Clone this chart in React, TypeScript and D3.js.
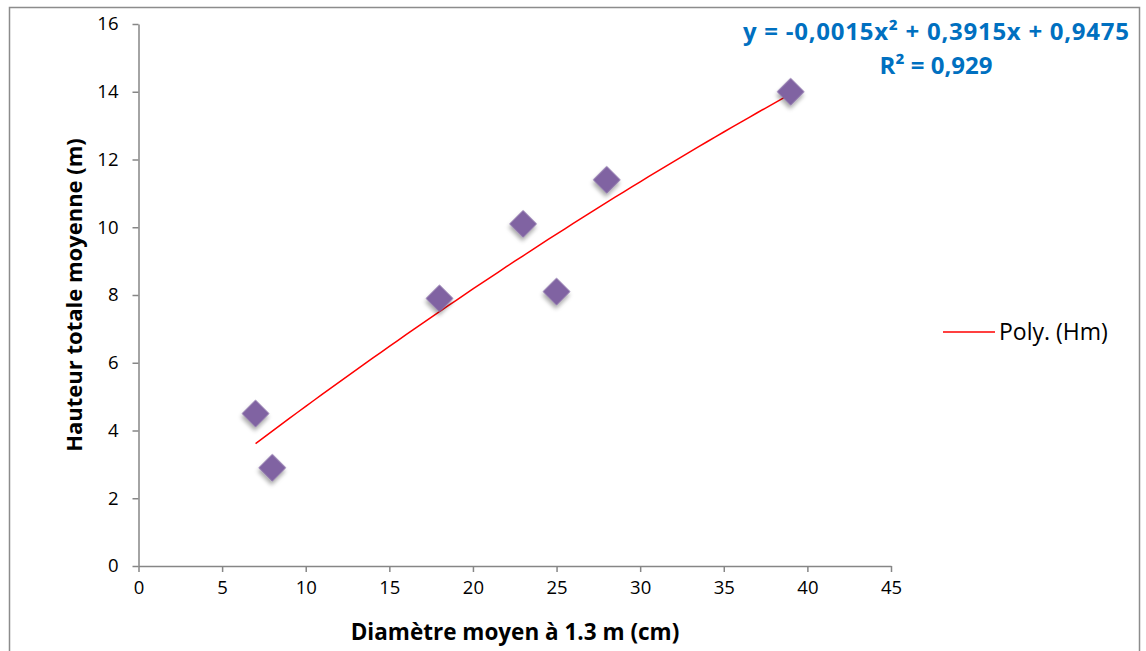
import React, { useEffect, useRef } from 'react';
import * as d3 from 'd3';

// données
const diametres = [7, 8, 18, 23, 25, 28, 39];
const hauteurs = [4.5, 2.9, 7.9, 10.1, 8.1, 11.4, 14];
const xTicks = [0, 5, 10, 15, 20, 25, 30, 35, 40, 45];
const yTicks = [0, 2, 4, 6, 8, 10, 12, 14, 16];
// coefficients de la tendance polynomiale (a, b, c) affichés sur le graphique
const polyCoefs = [-0.0015, 0.3915, 0.9475];
const equationLabel = 'y = -0,0015x² + 0,3915x + 0,9475';
const r2Label = 'R² = 0,929';
const legendLabel = 'Poly. (Hm)';

const W = 1146;
const H = 651;
const FONT = "'Open Sans', 'Noto Sans', sans-serif";

const App = () => {
    const ref = useRef<SVGSVGElement>(null);

    useEffect(() => {
        const svg = d3.select(ref.current);
        svg.selectAll('*').remove();

        const defs = svg.append('defs');
        const f = defs.append('filter').attr('id', 'ombre')
            .attr('x', '-50%').attr('y', '-50%').attr('width', '200%').attr('height', '200%');
        f.append('feDropShadow')
            .attr('dx', 2).attr('dy', 3).attr('stdDeviation', 2)
            .attr('flood-color', '#000').attr('flood-opacity', 0.35);

        // cadre
        svg.append('rect')
            .attr('x', 9.5).attr('y', 7.5)
            .attr('width', 1130).attr('height', 660)
            .attr('fill', '#fff').attr('stroke', '#8c8c8c').attr('stroke-width', 1.5);

        const x = d3.scaleLinear().domain([0, 45]).range([138.5, 891]);
        const y = d3.scaleLinear().domain([0, 16]).range([566, 24]);

        const xAxis = svg.append('g')
            .attr('transform', `translate(0,${y(0)})`)
            .call(d3.axisBottom(x).tickValues(xTicks).tickSize(6).tickPadding(9).tickSizeOuter(0));
        const yAxis = svg.append('g')
            .attr('transform', `translate(${x(0)},0)`)
            .call(d3.axisLeft(y).tickValues(yTicks).tickSize(6).tickPadding(14).tickSizeOuter(0));

        [xAxis, yAxis].forEach(g => {
            g.select('.domain').attr('stroke', '#868686').attr('stroke-width', 1.5);
            g.selectAll('.tick line').attr('stroke', '#868686').attr('stroke-width', 1.5);
            g.selectAll('.tick text')
                .attr('fill', '#000')
                .style('font-family', FONT)
                .style('font-size', '18.5px');
        });

        // courbe de tendance
        const [a, b, c] = polyCoefs;
        const xs = d3.range(diametres[0], d3.max(diametres)! + 0.001, 0.5);
        const line = d3.line<number>()
            .x(d => x(d))
            .y(d => y(a * d * d + b * d + c));
        svg.append('path')
            .datum(xs)
            .attr('d', line)
            .attr('fill', 'none')
            .attr('stroke', '#ff0000')
            .attr('stroke-width', 1.5);

        // points en losange
        const sym = d3.symbol().type(d3.symbolSquare).size(380);
        svg.append('g')
            .selectAll('path')
            .data(diametres.map((d, i) => [d, hauteurs[i]]))
            .enter()
            .append('path')
            .attr('d', sym)
            .attr('transform', d => `translate(${x(d[0])},${y(d[1])}) rotate(45)`)
            .attr('fill', '#8064a2')
            .attr('filter', 'url(#ombre)');

        // équation
        const eq = svg.append('text')
            .attr('text-anchor', 'middle')
            .attr('fill', '#0070c0')
            .style('font-family', FONT)
            .style('font-weight', 'bold')
            .style('font-size', '24px');
        eq.append('tspan').attr('x', 936).attr('y', 40).attr('textLength', 386).text(equationLabel);
        eq.append('tspan').attr('x', 936).attr('y', 74).text(r2Label);

        // légende
        svg.append('line')
            .attr('x1', 943).attr('x2', 995).attr('y1', 332).attr('y2', 332)
            .attr('stroke', '#ff0000').attr('stroke-width', 1.5);
        svg.append('text')
            .attr('x', 999).attr('y', 340)
            .style('font-family', FONT)
            .style('font-size', '23px')
            .text(legendLabel);

        // titres des axes
        svg.append('text')
            .attr('x', 515).attr('y', 640)
            .attr('text-anchor', 'middle')
            .style('font-family', FONT)
            .style('font-weight', 'bold')
            .style('font-size', '22.5px')
            .text('Diamètre moyen à 1.3 m (cm)');
        svg.append('text')
            .attr('transform', 'translate(82,295) rotate(-90)')
            .attr('text-anchor', 'middle')
            .style('font-family', FONT)
            .style('font-weight', 'bold')
            .style('font-size', '22px')
            .text('Hauteur totale moyenne (m)');
    }, []);

    return (
        <svg ref={ref} width={W} height={H}
            style={{ position: 'absolute', left: 0, top: 0, background: '#fff' }} />
    );
};

export default App;
